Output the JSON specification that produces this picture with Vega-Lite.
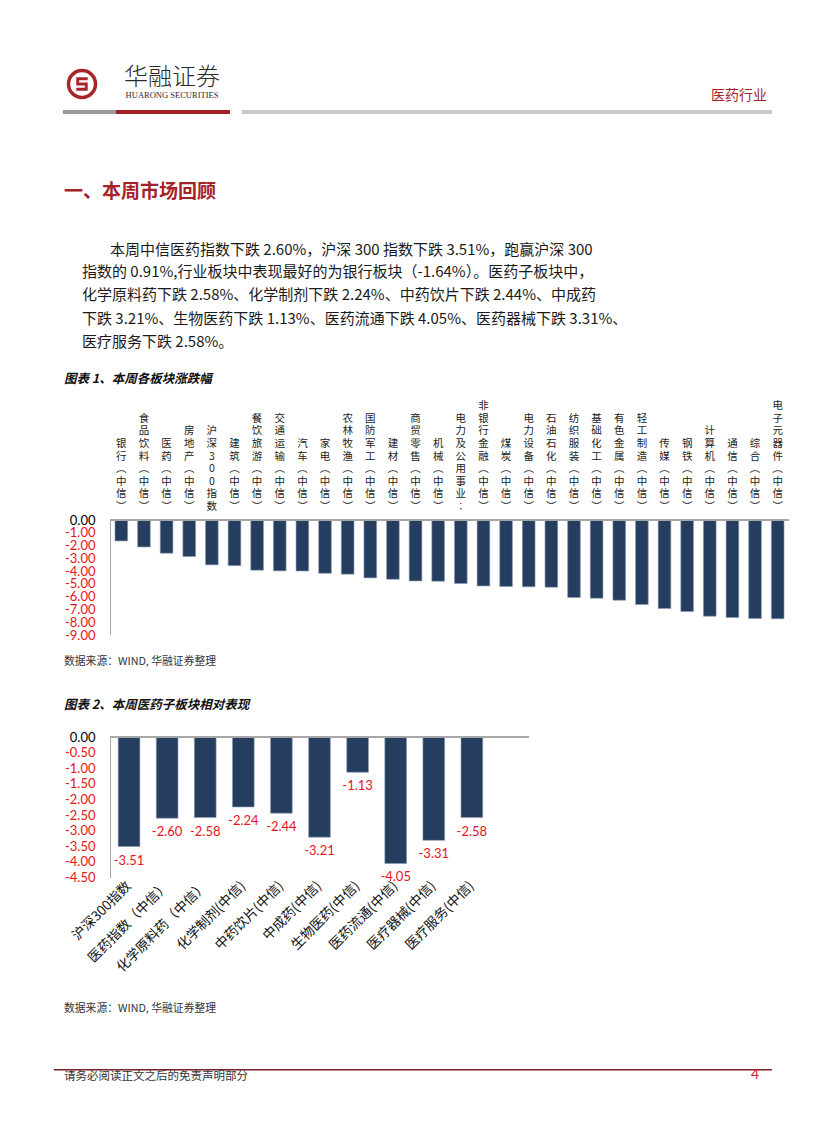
{
  "$schema": "https://vega.github.io/schema/vega-lite/v6.json",
  "background": "white",
  "padding": {"left": 52, "top": 40, "right": 0, "bottom": 0},
  "columns": 2,
  "spacing": 0,
  "bounds": "flush",
  "align": "each",
  "config": {
    "view": {"stroke": null},
    "font": "Noto Sans CJK SC",
    "locale": {"number": {"decimal": ".", "thousands": ",", "grouping": [3], "currency": ["", ""], "minus": "-"}},
    "title": {"anchor": "start", "frame": "group", "offset": 0, "limit": 900, "font": "Noto Sans CJK SC", "fontWeight": "normal", "color": "#1a1a1a"}
  },
  "concat": [
    {"width": 56, "height": 22, "data": {"values": [{}]}, "mark": {"type": "point", "opacity": 0, "size": 0}},
    {"width": 1, "height": 1, "data": {"values": [{}]}, "mark": {"type": "point", "opacity": 0, "size": 0}},

    {"width": 56, "height": 44, "data": {"values": [{}]},
      "layer": [
        {"mark": {"type": "point", "shape": "circle", "size": 729, "filled": false, "stroke": "#a8232a", "strokeWidth": 3.5, "opacity": 1, "dx": 3, "dy": -3}, "encoding": {}},
        {"mark": {"type": "point", "shape": "M-0.6,-0.7H0.6V-0.4H-0.3V-0.15H0.6V0.7H-0.6V0.4H0.3V0.15H-0.6Z", "filled": true, "fill": "#a8232a", "strokeWidth": 0, "size": 361, "opacity": 1, "dx": 3, "dy": -3}, "encoding": {}}
      ]},
    {"width": 124, "height": 44, "data": {"values": [{}]},
      "layer": [
        {"mark": {"type": "text", "text": "华融证券", "fontSize": 24, "fontWeight": 300, "dy": -6, "color": "#2a2a2a", "font": "Noto Sans CJK SC"}, "encoding": {}},
        {"mark": {"type": "text", "text": "HUARONG SECURITIES", "fontSize": 8.5, "dy": 11, "color": "#2a2a2a", "font": "Liberation Serif"}, "encoding": {}}
      ]},

    {"width": 56, "height": 4, "data": {"values": [{}]}, "mark": {"type": "point", "opacity": 0, "size": 0}},
    {"width": 1, "height": 1, "data": {"values": [{}]}, "mark": {"type": "point", "opacity": 0, "size": 0}},

    {"width": 56, "height": 4, "data": {"values": [{}]},
      "mark": {"type": "rule", "color": "#9a9a9a", "strokeWidth": 4, "strokeDash": [47, 200]},
      "encoding": {"y": {"datum": 0, "type": "quantitative", "scale": {"domain": [-1, 1]}, "axis": null}}},
    {"width": 662, "height": 4, "data": {"values": [{}]},
      "title": {"text": "医药行业", "anchor": "end", "dx": -5, "offset": 7, "fontSize": 14, "color": "#a8232a"},
      "layer": [
        {"mark": {"type": "rule", "color": "#9a9a9a", "strokeWidth": 4, "strokeDash": [0, 656, 6, 1000]},
          "encoding": {"y": {"datum": 0, "type": "quantitative", "scale": {"domain": [-1, 1]}, "axis": null}}},
        {"mark": {"type": "rule", "color": "#a21e23", "strokeWidth": 4, "strokeDash": [0, 542, 114, 1000]},
          "encoding": {"y": {"datum": 0, "type": "quantitative", "scale": {"domain": [-1, 1]}, "axis": null}}},
        {"mark": {"type": "rule", "color": "#c9c9c9", "strokeWidth": 4, "strokeDash": [530, 1000]},
          "encoding": {"y": {"datum": 0, "type": "quantitative", "scale": {"domain": [-1, 1]}, "axis": null}}}
      ]},

    {"width": 56, "height": 91.1, "data": {"values": [{}]}, "mark": {"type": "point", "opacity": 0, "size": 0}},
    {"width": 1, "height": 1, "data": {"values": [{}]}, "mark": {"type": "point", "opacity": 0, "size": 0}},

    {"width": 56, "height": 55.4, "data": {"values": [{}]}, "mark": {"type": "point", "opacity": 0, "size": 0},
      "title": {"text": "一、本周市场回顾", "dx": 10, "fontSize": 19, "fontWeight": "bold", "color": "#a5222a"}},
    {"width": 1, "height": 1, "data": {"values": [{}]}, "mark": {"type": "point", "opacity": 0, "size": 0}},

    {"width": 56, "height": 91.4, "data": {"values": [{}]}, "mark": {"type": "point", "opacity": 0, "size": 0},
      "title": {"text": "本周中信医药指数下跌 2.60%，沪深 300 指数下跌 3.51%，跑赢沪深 300", "dx": 56, "fontSize": 15, "color": "#1a1a1a"}},
    {"width": 1, "height": 1, "data": {"values": [{}]}, "mark": {"type": "point", "opacity": 0, "size": 0}},

    {"width": 56, "height": 34.35, "data": {"values": [{}]}, "mark": {"type": "point", "opacity": 0, "size": 0},
      "title": {"text": [
        "指数的 0.91%,行业板块中表现最好的为银行板块（-1.64%）。医药子板块中，",
        "化学原料药下跌 2.58%、化学制剂下跌 2.24%、中药饮片下跌 2.44%、中成药",
        "下跌 3.21%、生物医药下跌 1.13%、医药流通下跌 4.05%、医药器械下跌 3.31%、",
        "医疗服务下跌 2.58%。"
      ], "dx": 28, "fontSize": 15, "lineHeight": 23.5, "color": "#1a1a1a"}},
    {"width": 1, "height": 1, "data": {"values": [{}]}, "mark": {"type": "point", "opacity": 0, "size": 0}},

    {"width": 56, "height": 130.75, "data": {"values": [{}]}, "mark": {"type": "point", "opacity": 0, "size": 0},
      "title": {"text": "图表 1、本周各板块涨跌幅", "dx": 10, "fontSize": 12.5, "fontWeight": "bold", "fontStyle": "italic", "color": "#111111"}},
    {"width": 1, "height": 1, "data": {"values": [{}]}, "mark": {"type": "point", "opacity": 0, "size": 0}},

    {"width": 56, "height": 115, "data": {"values": [{}]}, "mark": {"type": "point", "opacity": 0, "size": 0}},
    {
      "width": 679, "height": 115,
      "data": {"values": [
        {"name": "银行(中信)", "value": -1.64},
        {"name": "食品饮料(中信)", "value": -2.11},
        {"name": "医药(中信)", "value": -2.60},
        {"name": "房地产(中信)", "value": -2.86},
        {"name": "沪深300指数", "value": -3.51},
        {"name": "建筑(中信)", "value": -3.57},
        {"name": "餐饮旅游(中信)", "value": -3.93},
        {"name": "交通运输(中信)", "value": -3.98},
        {"name": "汽车(中信)", "value": -3.99},
        {"name": "家电(中信)", "value": -4.17},
        {"name": "农林牧渔(中信)", "value": -4.24},
        {"name": "国防军工(中信)", "value": -4.53},
        {"name": "建材(中信)", "value": -4.64},
        {"name": "商贸零售(中信)", "value": -4.77},
        {"name": "机械(中信)", "value": -4.79},
        {"name": "电力及公用事业(中信)", "value": -4.97},
        {"name": "非银行金融(中信)", "value": -5.16},
        {"name": "煤炭(中信)", "value": -5.21},
        {"name": "电力设备(中信)", "value": -5.23},
        {"name": "石油石化(中信)", "value": -5.26},
        {"name": "纺织服装(中信)", "value": -6.07},
        {"name": "基础化工(中信)", "value": -6.12},
        {"name": "有色金属(中信)", "value": -6.28},
        {"name": "轻工制造(中信)", "value": -6.61},
        {"name": "传媒(中信)", "value": -6.93},
        {"name": "钢铁(中信)", "value": -7.16},
        {"name": "计算机(中信)", "value": -7.53},
        {"name": "通信(中信)", "value": -7.63},
        {"name": "综合(中信)", "value": -7.71},
        {"name": "电子元器件(中信)", "value": -7.73}
      ]},
      "layer": [
        {
          "mark": {"type": "bar", "color": "#253e5f", "stroke": "#8a9bb5", "strokeWidth": 0.6},
          "encoding": {
            "x": {"field": "name", "type": "nominal", "sort": null, "axis": null, "scale": {"paddingInner": 0.44, "paddingOuter": 0.22}},
            "y": {"field": "value", "type": "quantitative", "scale": {"domain": [-9, 0], "nice": false},
              "axis": {"values": [0, -1, -2, -3, -4, -5, -6, -7, -8, -9], "tickCount": 12, "format": ".2f", "title": null, "grid": false, "ticks": false,
                "domain": true, "domainColor": "#a6a6a6", "labelFont": "Lato", "labelFontSize": 13, "labelPadding": 15, "labelOverlap": false,
                "labelColor": {"condition": {"test": "datum.value === 0", "value": "#000000"}, "value": "#e8141b"}}}
          }
        },
        {"mark": {"type": "rule", "color": "#a6a6a6", "strokeWidth": 1}, "encoding": {"y": {"datum": 0, "type": "quantitative"}}},
        {
          "mark": {"type": "text", "text": {"expr": "reverse(split(length(datum.name) > 10 ? slice(datum.name, 0, 7) + '︰' : replace(replace(datum.name, '(', '︵'), ')', '︶'), ''))"},
            "align": "center", "baseline": "bottom", "dy": -8, "fontSize": 10.5, "lineHeight": -12.6, "color": "#222222", "font": "Noto Sans CJK SC"},
          "encoding": {
            "x": {"field": "name", "type": "nominal", "sort": null},
            "y": {"datum": 0, "type": "quantitative"}
          }
        }
      ]
    },

    {"width": 56, "height": 35.45, "data": {"values": [{}]}, "mark": {"type": "point", "opacity": 0, "size": 0}},
    {"width": 1, "height": 1, "data": {"values": [{}]}, "mark": {"type": "point", "opacity": 0, "size": 0}},

    {"width": 56, "height": 43.8, "data": {"values": [{}]}, "mark": {"type": "point", "opacity": 0, "size": 0},
      "title": {"text": "数据来源：WIND, 华融证券整理", "dx": 10, "fontSize": 10.8, "color": "#333333"}},
    {"width": 1, "height": 1, "data": {"values": [{}]}, "mark": {"type": "point", "opacity": 0, "size": 0}},

    {"width": 56, "height": 21.75, "data": {"values": [{}]}, "mark": {"type": "point", "opacity": 0, "size": 0},
      "title": {"text": "图表 2、本周医药子板块相对表现", "dx": 10, "fontSize": 12.5, "fontWeight": "bold", "fontStyle": "italic", "color": "#111111"}},
    {"width": 1, "height": 1, "data": {"values": [{}]}, "mark": {"type": "point", "opacity": 0, "size": 0}},

    {"width": 56, "height": 140.5, "data": {"values": [{}]}, "mark": {"type": "point", "opacity": 0, "size": 0}},
    {
      "width": 419, "height": 140.5,
      "data": {"values": [
        {"name": "沪深300指数", "value": -3.51},
        {"name": "医药指数（中信）", "value": -2.60},
        {"name": "化学原料药（中信）", "value": -2.58},
        {"name": "化学制剂(中信)", "value": -2.24},
        {"name": "中药饮片(中信)", "value": -2.44},
        {"name": "中成药(中信)", "value": -3.21},
        {"name": "生物医药(中信)", "value": -1.13},
        {"name": "医药流通(中信)", "value": -4.05},
        {"name": "医疗器械(中信)", "value": -3.31},
        {"name": "医疗服务(中信)", "value": -2.58}
      ]},
      "layer": [
        {
          "mark": {"type": "bar", "color": "#253e5f", "stroke": "#8a9bb5", "strokeWidth": 0.6},
          "encoding": {
            "x": {"field": "name", "type": "nominal", "sort": null,
              "scale": {"domain": ["沪深300指数", "医药指数（中信）", "化学原料药（中信）", "化学制剂(中信)", "中药饮片(中信)", "中成药(中信)", "生物医药(中信)", "医药流通(中信)", "医疗器械(中信)", "医疗服务(中信)", " "], "paddingInner": 0.43, "paddingOuter": 0.215},
              "axis": {"orient": "bottom", "labelAngle": -45, "labelAlign": "right", "labelBaseline": "middle", "domain": false, "ticks": false, "labelPadding": 6,
                "labelFont": "Noto Sans CJK SC", "labelFontSize": 13.5, "labelColor": "#111111", "labelOverlap": false, "labelLimit": 0, "title": null}},
            "y": {"field": "value", "type": "quantitative", "scale": {"domain": [-4.5, 0], "nice": false},
              "axis": {"values": [0, -0.5, -1, -1.5, -2, -2.5, -3, -3.5, -4, -4.5], "tickCount": 12, "format": ".2f", "title": null, "grid": false, "ticks": false,
                "domain": true, "domainColor": "#a6a6a6", "labelFont": "Lato", "labelFontSize": 13, "labelPadding": 15, "labelOverlap": false,
                "labelColor": {"condition": {"test": "datum.value === 0", "value": "#000000"}, "value": "#e8141b"}}}
          }
        },
        {"mark": {"type": "rule", "color": "#a6a6a6", "strokeWidth": 1}, "encoding": {"y": {"datum": 0, "type": "quantitative"}}},
        {
          "mark": {"type": "text", "baseline": "top", "dy": 8, "fontSize": 13, "font": "Lato", "color": "#e8141b"},
          "encoding": {
            "x": {"field": "name", "type": "nominal", "sort": null},
            "y": {"field": "value", "type": "quantitative"},
            "text": {"field": "value", "type": "quantitative", "format": ".2f"}
          }
        }
      ]
    },

    {"width": 56, "height": 139.95, "data": {"values": [{}]}, "mark": {"type": "point", "opacity": 0, "size": 0}},
    {"width": 1, "height": 1, "data": {"values": [{}]}, "mark": {"type": "point", "opacity": 0, "size": 0}},

    {"width": 56, "height": 50.55, "data": {"values": [{}]}, "mark": {"type": "point", "opacity": 0, "size": 0},
      "title": {"text": "数据来源：WIND, 华融证券整理", "dx": 10, "fontSize": 10.8, "color": "#333333"}},
    {"width": 1, "height": 1, "data": {"values": [{}]}, "mark": {"type": "point", "opacity": 0, "size": 0}},

    {"width": 56, "height": 1.5, "view": {"fill": "#7b1f24", "stroke": null}, "data": {"values": [{}]}, "mark": {"type": "point", "opacity": 0, "size": 0}},
    {"width": 662, "height": 1.5, "view": {"fill": "#7b1f24", "stroke": null}, "data": {"values": [{}]}, "mark": {"type": "point", "opacity": 0, "size": 0}},

    {"width": 56, "height": 14.85, "data": {"values": [{}]}, "mark": {"type": "point", "opacity": 0, "size": 0}},
    {"width": 1, "height": 1, "data": {"values": [{}]}, "mark": {"type": "point", "opacity": 0, "size": 0}},

    {"width": 56, "height": 1, "data": {"values": [{}]}, "mark": {"type": "point", "opacity": 0, "size": 0},
      "title": {"text": "请务必阅读正文之后的免责声明部分", "dx": 10, "fontSize": 11.5, "color": "#333333"}},
    {"width": 662, "height": 1, "data": {"values": [{}]}, "mark": {"type": "point", "opacity": 0, "size": 0},
      "title": {"text": "4", "anchor": "end", "dx": -13, "fontSize": 14, "font": "Lato", "color": "#c0282d"}}
  ]
}
